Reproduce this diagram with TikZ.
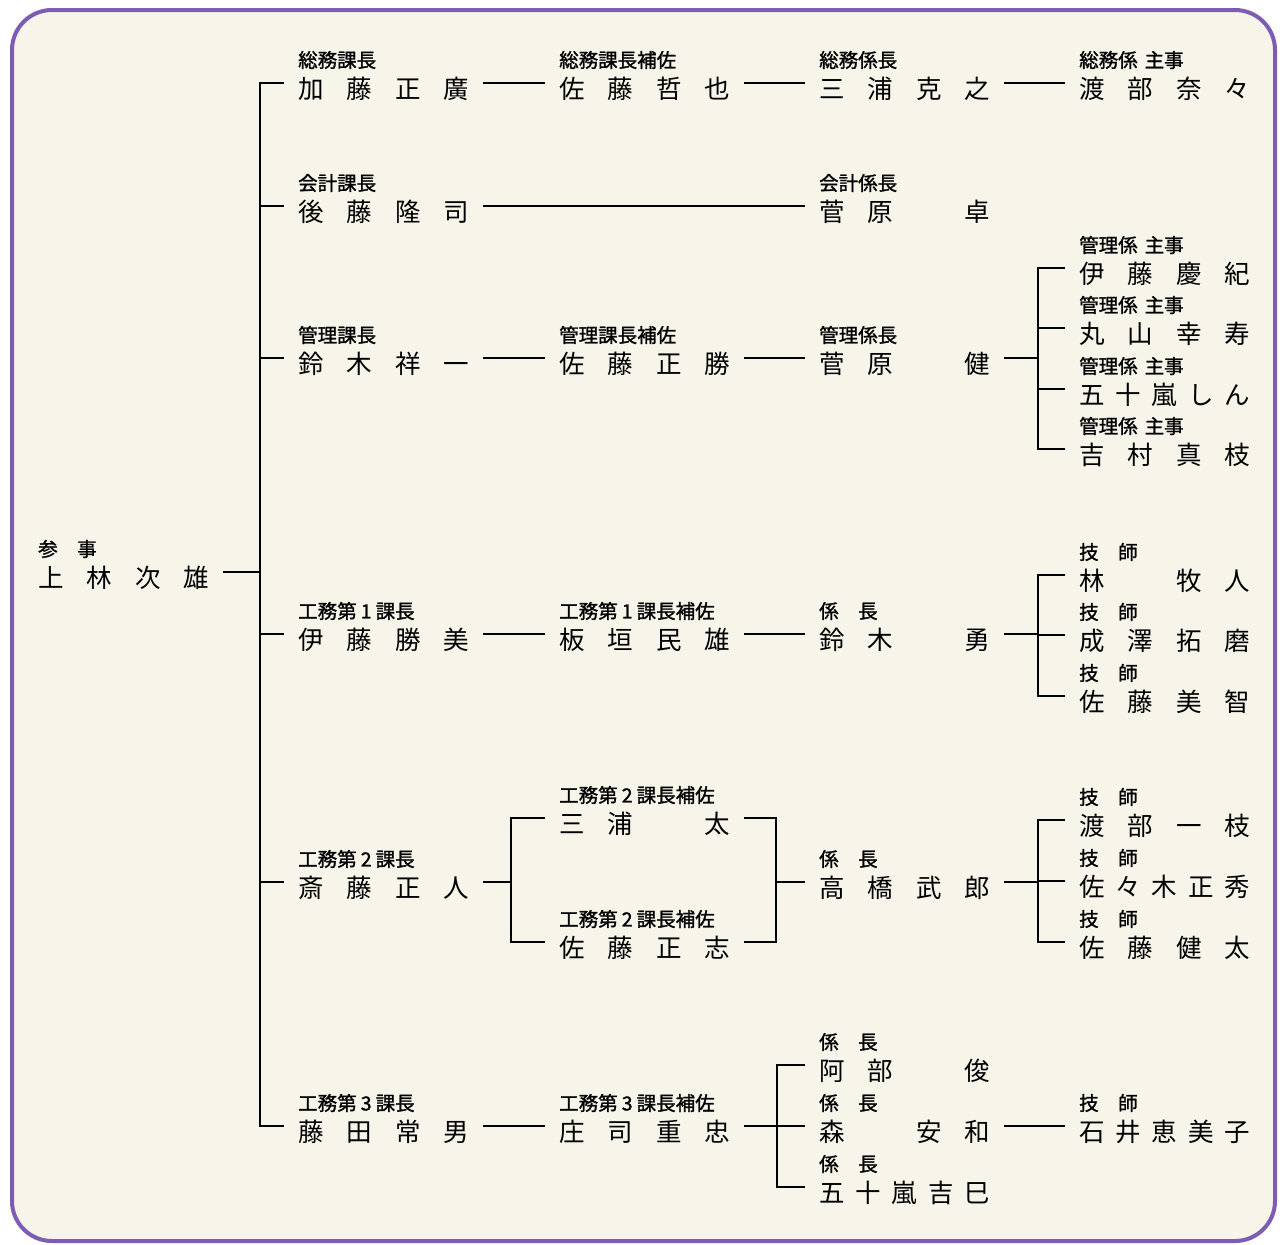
\documentclass[tikz,border=0pt]{standalone}
\usepackage{fontspec}
\newfontfamily\jp{Noto Sans CJK JP}
\newfontfamily\jpt[FakeBold=1.3]{Noto Sans CJK JP}
\definecolor{bgc}{HTML}{F7F4EA}
\definecolor{framec}{HTML}{7C5DB3}
\tikzset{
  nm/.style={inner xsep=14pt, inner ysep=0pt, text height=31pt, text depth=0pt,
    font=\jp\fontsize{25.5}{25.5}\selectfont, anchor=west},
  tt/.style={inner sep=0pt, font=\jpt\fontsize{19.5}{20}\selectfont, anchor=west},
  ln/.style={line width=2.8pt, black}
}
\newcommand\nmx[4]{\makebox[171pt][s]{#1\hfill#2\hfill#3\hfill#4}}
\newcommand\nmv[5]{\makebox[171pt][s]{#1\hfill#2\hfill#3\hfill#4\hfill#5}}
\newcommand\blk{\phantom{一}}
\newcommand\dg[1]{\makebox[19pt]{#1}}
\newcommand\addperson[5]{%
  \node[nm] (#1) at ({#2-14},{#3}) {#5};
  \node[tt] (#1t) at ({#2},{#3-23}) {#4};
}
\begin{document}
\begin{tikzpicture}[x=1pt,y=-1pt]
\useasboundingbox (0,0) rectangle (1280,1245);
\fill[white] (0,0) rectangle (1280,1245);
\draw[framec, line width=4pt, fill=bgc, rounded corners=40pt] (12,10) rectangle (1275,1241);

% root
\addperson{root}{38}{572}{参\hspace{1em}事}{\nmx{上}{林}{次}{雄}}
% row A
\addperson{a1}{298}{83}{総務課長}{\nmx{加}{藤}{正}{廣}}
\addperson{a2}{559}{83}{総務課長補佐}{\nmx{佐}{藤}{哲}{也}}
\addperson{a3}{819}{83}{総務係長}{\nmx{三}{浦}{克}{之}}
\addperson{a4}{1079}{83}{総務係\hspace{7pt}主事}{\nmx{渡}{部}{奈}{々}}
% row B
\addperson{b1}{298}{206}{会計課長}{\nmx{後}{藤}{隆}{司}}
\addperson{b3}{819}{206}{会計係長}{\nmx{菅}{原}{\blk}{卓}}
% row C
\addperson{c1}{298}{358}{管理課長}{\nmx{鈴}{木}{祥}{一}}
\addperson{c2}{559}{358}{管理課長補佐}{\nmx{佐}{藤}{正}{勝}}
\addperson{c3}{819}{358}{管理係長}{\nmx{菅}{原}{\blk}{健}}
\addperson{c4a}{1079}{268}{管理係\hspace{7pt}主事}{\nmx{伊}{藤}{慶}{紀}}
\addperson{c4b}{1079}{328}{管理係\hspace{7pt}主事}{\nmx{丸}{山}{幸}{寿}}
\addperson{c4c}{1079}{389}{管理係\hspace{7pt}主事}{\nmv{五}{十}{嵐}{し}{ん}}
\addperson{c4d}{1079}{449}{管理係\hspace{7pt}主事}{\nmx{吉}{村}{真}{枝}}
% row D
\addperson{d1}{298}{634}{工務第\dg{1}課長}{\nmx{伊}{藤}{勝}{美}}
\addperson{d2}{559}{634}{工務第\dg{1}課長補佐}{\nmx{板}{垣}{民}{雄}}
\addperson{d3}{819}{634}{係\hspace{1em}長}{\nmx{鈴}{木}{\blk}{勇}}
\addperson{d4a}{1079}{575}{技\hspace{1em}師}{\nmx{林}{\blk}{牧}{人}}
\addperson{d4b}{1079}{635}{技\hspace{1em}師}{\nmx{成}{澤}{拓}{磨}}
\addperson{d4c}{1079}{696}{技\hspace{1em}師}{\nmx{佐}{藤}{美}{智}}
% row E
\addperson{e1}{298}{882}{工務第\dg{2}課長}{\nmx{斎}{藤}{正}{人}}
\addperson{e2a}{559}{818}{工務第\dg{2}課長補佐}{\nmx{三}{浦}{\blk}{太}}
\addperson{e2b}{559}{942}{工務第\dg{2}課長補佐}{\nmx{佐}{藤}{正}{志}}
\addperson{e3}{819}{882}{係\hspace{1em}長}{\nmx{高}{橋}{武}{郎}}
\addperson{e4a}{1079}{820}{技\hspace{1em}師}{\nmx{渡}{部}{一}{枝}}
\addperson{e4b}{1079}{881}{技\hspace{1em}師}{\nmv{佐}{々}{木}{正}{秀}}
\addperson{e4c}{1079}{942}{技\hspace{1em}師}{\nmx{佐}{藤}{健}{太}}
% row F
\addperson{f1}{298}{1126}{工務第\dg{3}課長}{\nmx{藤}{田}{常}{男}}
\addperson{f2}{559}{1126}{工務第\dg{3}課長補佐}{\nmx{庄}{司}{重}{忠}}
\addperson{f3a}{819}{1065}{係\hspace{1em}長}{\nmx{阿}{部}{\blk}{俊}}
\addperson{f3b}{819}{1126}{係\hspace{1em}長}{\nmx{森}{\blk}{安}{和}}
\addperson{f3c}{819}{1187}{係\hspace{1em}長}{\nmv{五}{十}{嵐}{吉}{巳}}
\addperson{f4}{1079}{1126}{技\hspace{1em}師}{\nmv{石}{井}{恵}{美}{子}}

% bracket columns
\coordinate (tr) at (260,0);
\coordinate (kc) at (1038,0);
\coordinate (ke) at (511,0);
\coordinate (ke2) at (776,0);
\coordinate (kf) at (777,0);

% trunk
\draw[ln] (a1.west) -- (a1.west -| tr) -- (f1.west -| tr) -- (f1.west);
\foreach \n in {b1,c1,d1,e1} \draw[ln] (\n.west -| tr) -- (\n.west);
\draw[ln] (root.east) -- (root.east -| tr);

% row A
\draw[ln] (a1.east) -- (a2.west);
\draw[ln] (a2.east) -- (a3.west);
\draw[ln] (a3.east) -- (a4.west);
% row B
\draw[ln] (b1.east) -- (b3.west);
% row C
\draw[ln] (c1.east) -- (c2.west);
\draw[ln] (c2.east) -- (c3.west);
\draw[ln] (c3.east) -- (c3.east -| kc);
\draw[ln] (c4a.west) -- (c4a.west -| kc) -- (c4d.west -| kc) -- (c4d.west);
\draw[ln] (c4b.west -| kc) -- (c4b.west);
\draw[ln] (c4c.west -| kc) -- (c4c.west);
% row D
\draw[ln] (d1.east) -- (d2.west);
\draw[ln] (d2.east) -- (d3.west);
\draw[ln] (d3.east) -- (d3.east -| kc);
\draw[ln] (d4a.west) -- (d4a.west -| kc) -- (d4c.west -| kc) -- (d4c.west);
\draw[ln] (d4b.west -| kc) -- (d4b.west);
% row E
\draw[ln] (e1.east) -- (e1.east -| ke);
\draw[ln] (e2a.west) -- (e2a.west -| ke) -- (e2b.west -| ke) -- (e2b.west);
\draw[ln] (e2a.east) -- (e2a.east -| ke2) -- (e2b.east -| ke2) -- (e2b.east);
\draw[ln] (e3.west -| ke2) -- (e3.west);
\draw[ln] (e3.east) -- (e3.east -| kc);
\draw[ln] (e4a.west) -- (e4a.west -| kc) -- (e4c.west -| kc) -- (e4c.west);
\draw[ln] (e4b.west -| kc) -- (e4b.west);
% row F
\draw[ln] (f1.east) -- (f2.west);
\draw[ln] (f2.east) -- (f2.east -| kf);
\draw[ln] (f3a.west) -- (f3a.west -| kf) -- (f3c.west -| kf) -- (f3c.west);
\draw[ln] (f3b.west -| kf) -- (f3b.west);
\draw[ln] (f3b.east) -- (f4.west);
\end{tikzpicture}
\end{document}
